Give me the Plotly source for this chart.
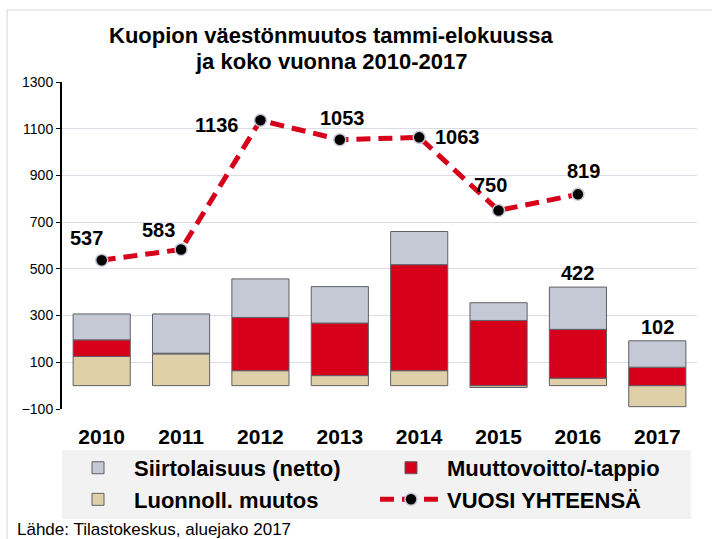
import plotly.graph_objects as go

years = [2010, 2011, 2012, 2013, 2014, 2015, 2016, 2017]
luonnoll = [125, 136, 64, 43, 64, -8, 32, -90]
muuttovoitto = [71, 3, 228, 225, 454, 279, 209, 79]
siirtolaisuus = [111, 168, 165, 156, 142, 76, 181, 113]

line_years = [2010, 2011, 2012, 2013, 2014, 2015, 2016]
vuosi_yhteensa = [537, 583, 1136, 1053, 1063, 750, 819]

bar_label_years = [2016, 2017]
bar_label_values = [422, 102]

y_ticks = [-100, 100, 300, 500, 700, 900, 1100, 1300]

title_lines = ["Kuopion väestönmuutos tammi-elokuussa", "ja koko vuonna 2010-2017"]
source_text = "Lähde: Tilastokeskus, aluejako 2017"

# label offsets (px) for the line labels: styling only
line_label_offsets = [(-15, 22), (-23, 19), (-44, -5), (3, 22), (38, 0), (-8, 25), (6, 23)]

GREY = "#C5C9D6"
RED = "#D7001A"
TAN = "#DFD0A9"
OUT = "#5F5F66"
FONT = "Liberation Sans, Arial, sans-serif"

fig = go.Figure()
fig.add_trace(go.Bar(x=years, y=luonnoll, name="Luonnoll. muutos", marker=dict(color=TAN, line=dict(color=OUT, width=1)), legendrank=3))
fig.add_trace(go.Bar(x=years, y=muuttovoitto, name="Muuttovoitto/-tappio", marker=dict(color=RED, line=dict(color=OUT, width=1)), legendrank=2))
fig.add_trace(go.Bar(x=years, y=siirtolaisuus, name="Siirtolaisuus (netto)", marker=dict(color=GREY, line=dict(color=OUT, width=1)), legendrank=1))
fig.add_trace(go.Scatter(x=line_years, y=vuosi_yhteensa, name="VUOSI YHTEENSÄ", mode="lines+markers",
                         line=dict(color=RED, width=5, dash="14px,8px"),
                         marker=dict(color="black", size=12, line=dict(color=GREY, width=1.5)), legendrank=4))

annotations = []
for yr, v, (dx, dy) in zip(line_years, vuosi_yhteensa, line_label_offsets):
    annotations.append(dict(x=yr, y=v, xref="x", yref="y", text="<b>%d</b>" % v, showarrow=False,
                            xshift=dx, yshift=dy, font=dict(family=FONT, size=20, color="black")))
tops = {yr: max(0, a) + max(0, b) + max(0, c) for yr, a, b, c in zip(years, luonnoll, muuttovoitto, siirtolaisuus)}
for yr, v in zip(bar_label_years, bar_label_values):
    annotations.append(dict(x=yr, y=tops[yr], xref="x", yref="y", text="<b>%d</b>" % v, showarrow=False,
                            yanchor="bottom", yshift=1, font=dict(family=FONT, size=20, color="black")))
for line, ty in zip(title_lines, [1.1407, 1.0642]):
    annotations.append(dict(x=0.423, y=ty, xref="paper", yref="paper", xanchor="center", yanchor="middle",
                            text="<b>%s</b>" % line, showarrow=False, font=dict(family=FONT, size=22, color="black")))
annotations.append(dict(x=-0.0739, y=-0.367, xref="paper", yref="paper", xanchor="left", yanchor="middle",
                        text=source_text, showarrow=False, font=dict(family=FONT, size=17, color="black")))

boundaries = [y - 0.5 for y in years] + [years[-1] + 0.5]

fig.update_layout(
    width=712, height=539,
    margin=dict(l=62, r=15, t=82, b=130, autoexpand=False),
    paper_bgcolor="white", plot_bgcolor="white",
    barmode="relative", bargap=0.28,
    showlegend=True,
    legend=dict(orientation="h", x=0, y=-0.116, xanchor="left", yanchor="top",
                bgcolor="rgba(0,0,0,0)", entrywidth=236, entrywidthmode="pixels",
                font=dict(family=FONT, size=22, color="black", weight="bold"),
                itemwidth=62, traceorder="normal"),
    annotations=annotations,
    shapes=[
        dict(type="rect", xref="paper", yref="paper", x0=0, x1=0.9906, y0=-0.1254, y1=-0.3364,
             fillcolor="#F2F2F2", line=dict(width=0), layer="below"),
        dict(type="line", xref="paper", yref="paper", x0=-0.0865, x1=-0.0865, y0=1.22, y1=-0.4, line=dict(color="#D4D4E4", width=1)),
        dict(type="line", xref="paper", yref="paper", x0=-0.0865, x1=1.03, y0=1.22, y1=1.22, line=dict(color="#D4D4E4", width=1)),
    ],
    xaxis=dict(range=[years[0] - 0.5, years[-1] + 0.5], tickvals=years, showline=False,
               ticks="outside", ticklen=9, tickcolor="rgba(0,0,0,0)", showgrid=False, zeroline=False,
               tickfont=dict(family=FONT, size=21, color="black", weight="bold")),
    xaxis2=dict(range=[years[0] - 0.5, years[-1] + 0.5], overlaying="x", anchor="free", position=100 / 1400,
                side="bottom", showline=True, linecolor="black", linewidth=1.5, tickvals=boundaries,
                ticks="outside", ticklen=6, tickcolor="#999999", showticklabels=False, showgrid=False, zeroline=False),
    yaxis=dict(range=[-100, 1300], tickvals=y_ticks, showgrid=True, gridcolor="#DCDCE6", gridwidth=1,
               showline=True, linecolor="black", linewidth=2, ticks="outside", ticklen=4, tickcolor="black",
               ticksuffix="  ", zeroline=False, tickfont=dict(family=FONT, size=14, color="black")),
)

fig.write_html("out.html", config={"displayModeBar": False}, post_script="document.body.style.margin='0';")
